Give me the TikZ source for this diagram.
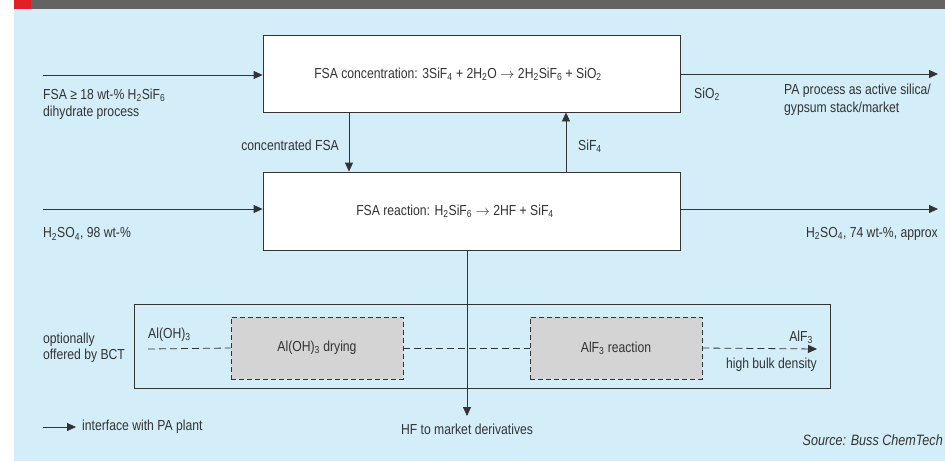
\documentclass[tikz,border=0pt]{standalone}
\usepackage{fontspec}
\setmainfont{Liberation Sans}[FakeStretch=0.84]
\usetikzlibrary{arrows.meta,positioning}
\definecolor{bgblue}{HTML}{D3EDF9}
\definecolor{barg}{HTML}{636363}
\definecolor{barred}{HTML}{E21F26}
\definecolor{ink}{HTML}{333333}
\definecolor{boxg}{HTML}{D4D4D4}
\newcommand{\sbs}[1]{\textsubscript{#1}}
\tikzset{
  every node/.style={font=\fontsize{14.5}{17}\selectfont, text=ink, inner sep=0pt},
  procbox/.style={draw=ink, fill=white, line width=0.8pt, minimum width=417pt, minimum height=77pt},
  optbox/.style={draw=ink, line width=0.8pt, minimum width=696pt, minimum height=84pt},
  dashbox/.style={draw=ink, dash pattern=on 5pt off 3pt, fill=boxg, line width=0.8pt, minimum width=172pt, minimum height=62pt},
  arr/.style={draw=ink, line width=0.8pt, -{Triangle[length=9pt,width=8pt]}},
  conn/.style={draw=ink, line width=0.8pt},
  dconn/.style={draw=ink, line width=0.8pt, dash pattern=on 7pt off 4pt},
  lbl/.style={anchor=west},
  rlbl/.style={anchor=east},
}
\begin{document}
\begin{tikzpicture}[x=1pt,y=-1pt]
\useasboundingbox (0,0) rectangle (945,461);
% background and title bar
\fill[bgblue] (14,9) rectangle (945,461);
\fill[barg] (14,0) rectangle (945,9);
\fill[barred] (14,0) rectangle (31,9);

% process boxes
\node[procbox] (b1) at (471.5,73.5) {};
\node (b1t) at (458,74) {FSA concentration: 3SiF\sbs{4} + 2H\sbs{2}O $\rightarrow$ 2H\sbs{2}SiF\sbs{6} + SiO\sbs{2}};
\node[procbox, minimum height=78pt] (b2) at (471.5,211) {};
\node (b2t) at (455,211) {FSA reaction: H\sbs{2}SiF\sbs{6} $\rightarrow$ 2HF + SiF\sbs{4}};

% optional section
\node[optbox] (opt) at (482,346) {};
\node[dashbox] (d1) at (317,348) {Al(OH)\sbs{3} drying};
\node[dashbox] (d2) at (616,348) {AlF\sbs{3} reaction};

% coordinates for free ends
\coordinate (in1) at (43,75);
\coordinate (out1) at (938,74);
\coordinate (in2) at (43,209);
\coordinate (out2) at (938,209);
\coordinate (cf) at (349,140);
\coordinate (sf) at (566,140);
\coordinate (hfx) at (467,300);
\coordinate (hfend) at (467,416);
\coordinate (alin) at (148,349);
\coordinate (alout) at (817,349);
\coordinate (lg1) at (43,427);
\coordinate (lg2) at (76,427);

% connectors
\draw[arr] (in1) -- (in1 -| b1.west);
\draw[arr] (b1.east |- out1) -- (out1);
\draw[arr] (in2) -- (in2 -| b2.west);
\draw[arr] (b2.east |- out2) -- (out2);
\draw[arr] (b1.south -| cf) -- (b2.north -| cf);
\draw[arr] (b2.north -| sf) -- (b1.south -| sf);
\draw[dconn] (alin) -- (d1.west);
\draw[dconn] (d1.east) -- (d2.west);
\draw[dconn, -{Triangle[length=9pt,width=8pt]}] (d2.east) -- (alout);
\draw[arr] (b2.south -| hfx) -- (hfend);
\draw[arr] (lg1) -- (lg2);

% labels
\node[anchor=north west, align=left] (l1) at (43,89) {FSA ≥ 18 wt-\% H\sbs{2}SiF\sbs{6}\\dihydrate process};
\node[lbl] (l2) at (694,94) {SiO\sbs{2}};
\node[anchor=north west, align=left, font=\fontsize{14.5}{18}\selectfont] (l3) at (784,84) {PA process as active silica/\\gypsum stack/market};
\node[rlbl] (l4) at (339,145) {concentrated FSA};
\node[lbl] (l5) at (578,146) {SiF\sbs{4}};
\node[lbl] (l6) at (43,234) {H\sbs{2}SO\sbs{4}, 98 wt-\%};
\node[rlbl] (l7) at (938,234) {H\sbs{2}SO\sbs{4}, 74 wt-\%, approx};
\node[lbl] (l8) at (148,335) {Al(OH)\sbs{3}};
\node[anchor=north west, align=left, font=\fontsize{14.5}{16}\selectfont] (l9) at (43,333) {optionally\\offered by BCT};
\node[rlbl] (l10) at (813,337) {AlF\sbs{3}};
\node[rlbl] (l11) at (817,365) {high bulk density};
\node[lbl] (l12) at (82,427) {interface with PA plant};
\node (l13) at (467,429) {HF to market derivatives};
\node[rlbl, font=\fontsize{15}{16}\itshape] (l14) at (943,440) {Source: Buss ChemTech};
\end{tikzpicture}
\end{document}
